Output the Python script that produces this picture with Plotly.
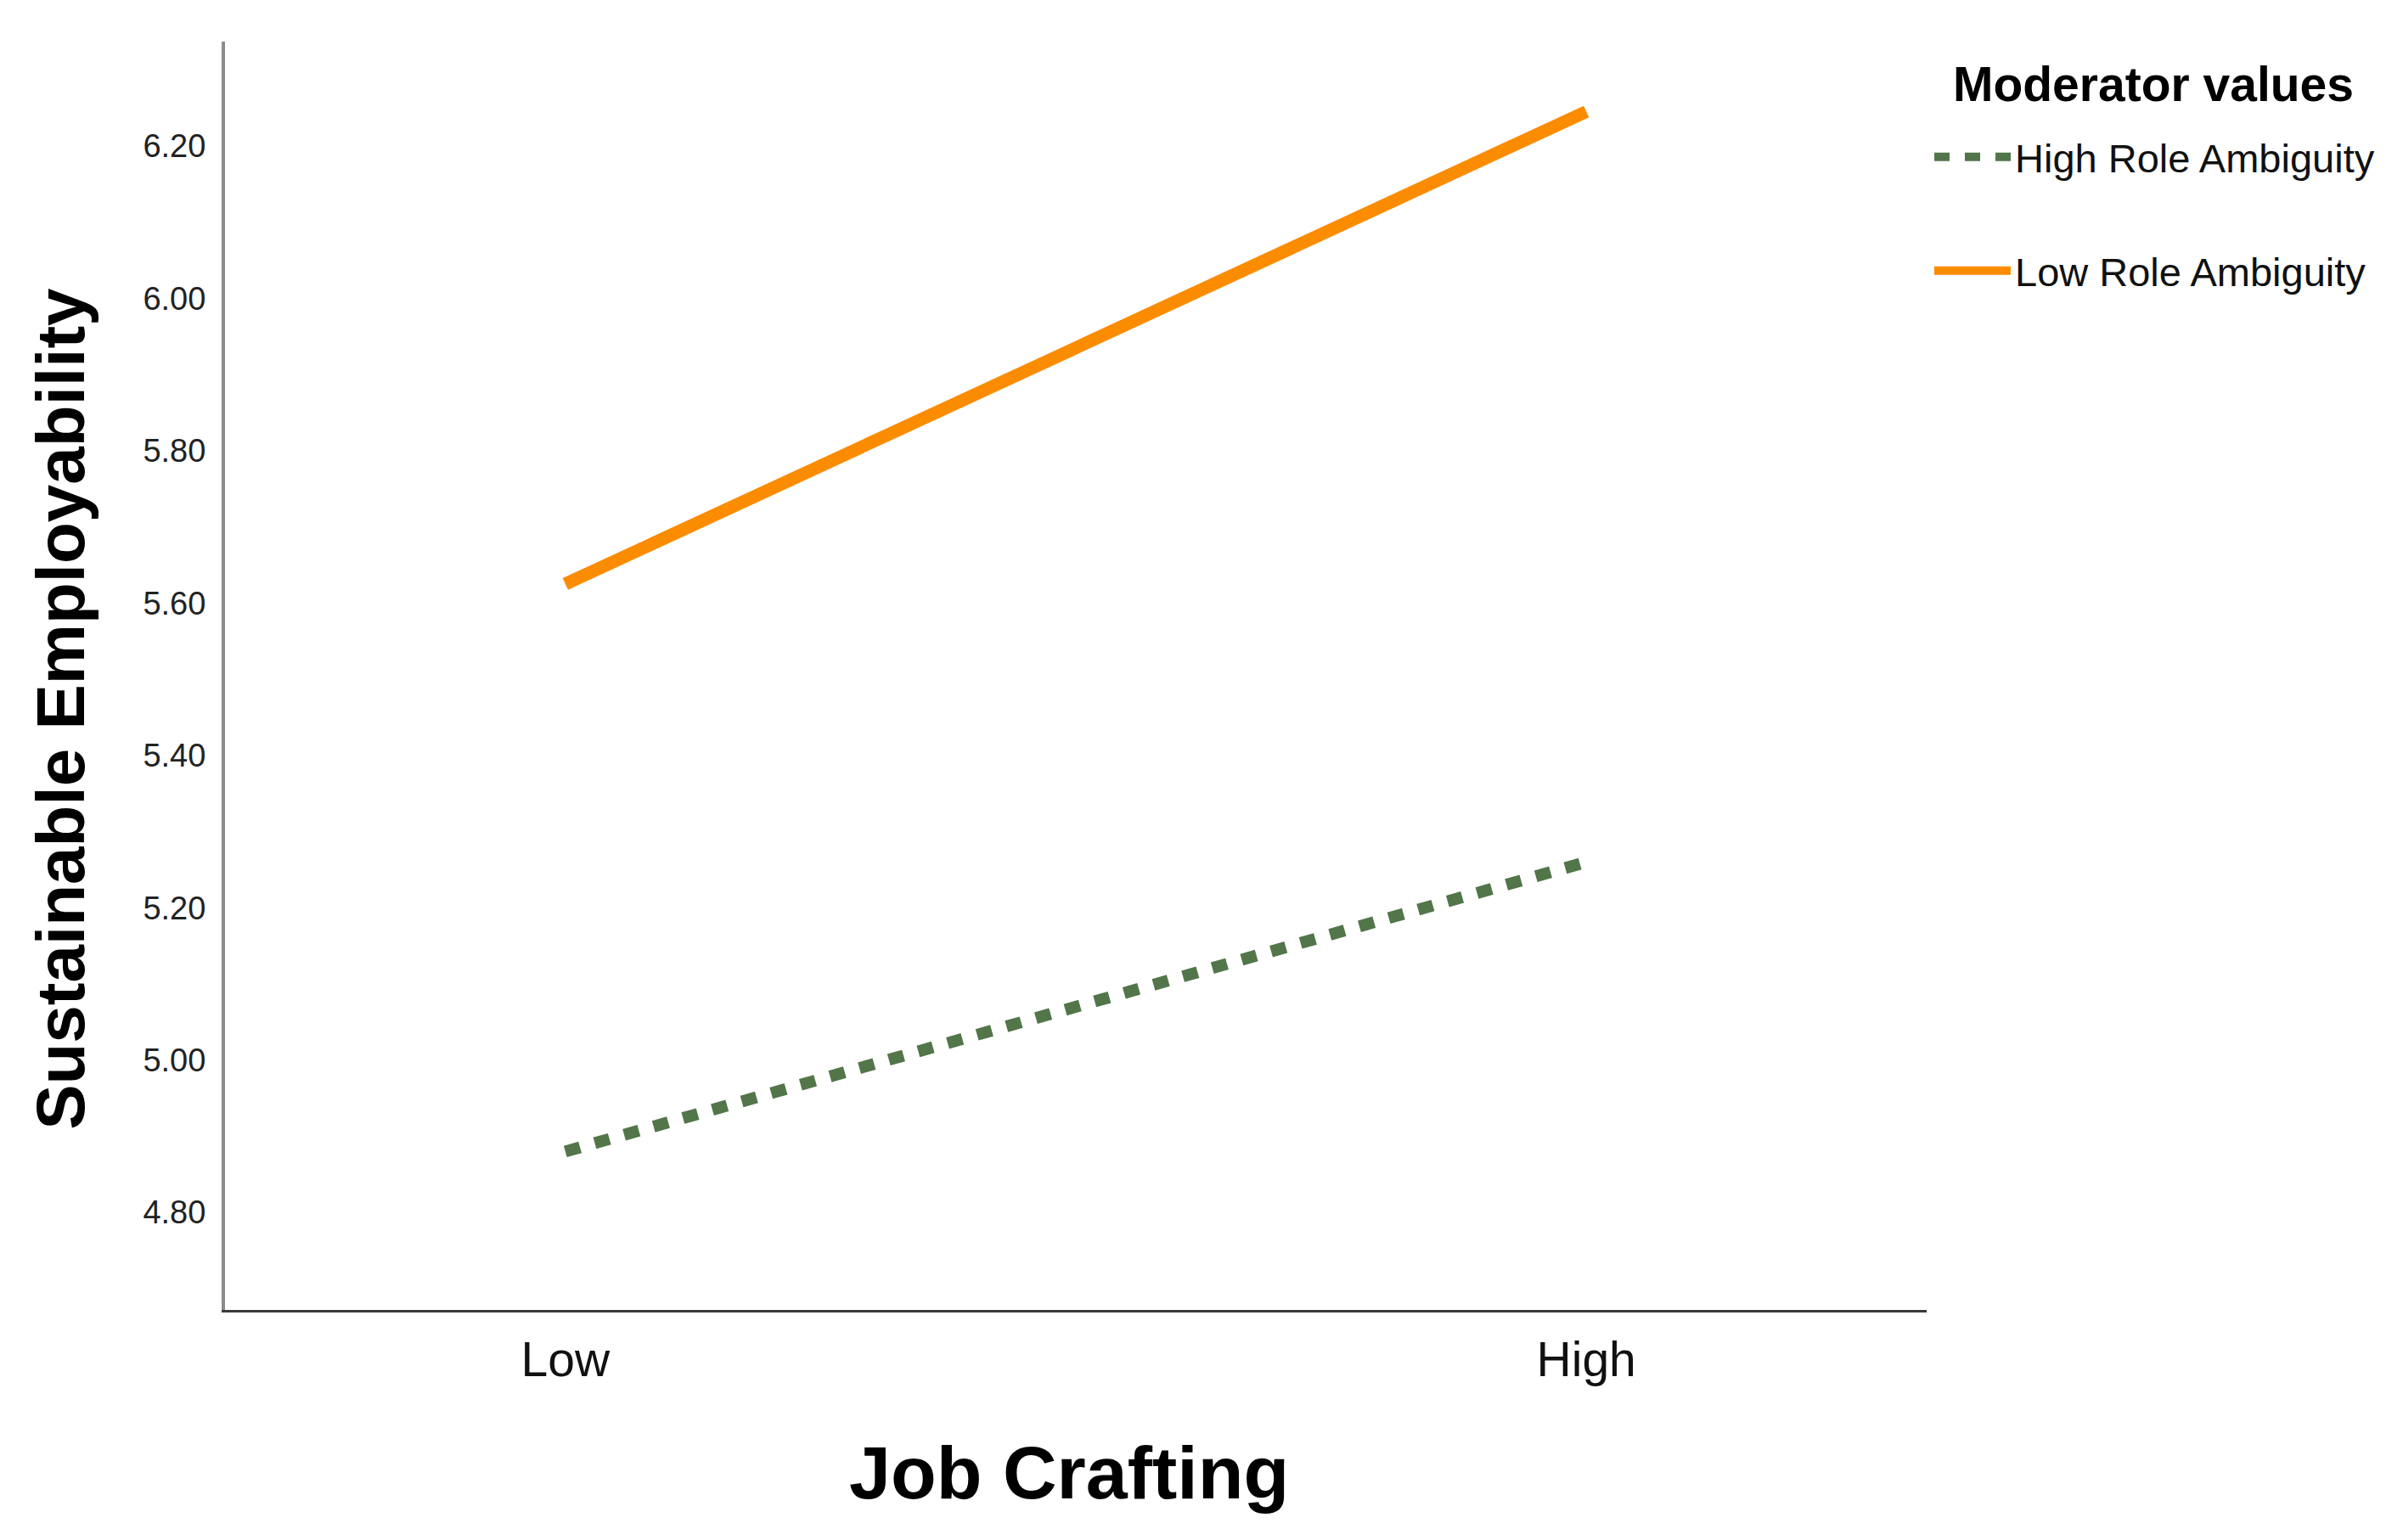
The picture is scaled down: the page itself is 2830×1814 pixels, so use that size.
import plotly.graph_objects as go

# Simple slopes plot: moderator = role ambiguity
job_crafting = ["Low", "High"]
high_role_ambiguity = [4.88, 5.26]
low_role_ambiguity = [5.625, 6.245]
y_ticks = [4.8, 5.0, 5.2, 5.4, 5.6, 5.8, 6.0, 6.2]

FONT = "Liberation Sans, Arial, sans-serif"

fig = go.Figure()
fig.add_trace(go.Scatter(
    x=job_crafting, y=high_role_ambiguity, mode="lines", name="High Role Ambiguity",
    line=dict(color="#52764A", width=14, dash="18px,18px"), legendgroup="a"))
fig.add_trace(go.Scatter(
    x=job_crafting, y=low_role_ambiguity, mode="lines", name="Low Role Ambiguity",
    line=dict(color="#FB8C00", width=15), legendgroup="b"))

fig.update_layout(
    width=2830, height=1814,
    paper_bgcolor="white", plot_bgcolor="white",
    margin=dict(l=257, r=569, t=41, b=279),
    font=dict(family=FONT, color="#111"),
    legend=dict(
        x=1.002, xanchor="left", y=0.934, yanchor="top",
        font=dict(size=47, color="#111"),
        tracegroupgap=70, itemwidth=90,
    ),
    annotations=[
        dict(text="<b>Moderator values</b>", xref="paper", yref="paper",
             x=1.1333, y=0.9665, xanchor="center", yanchor="middle", showarrow=False,
             font=dict(size=57, color="#000")),
        dict(text="<b>Sustainable Employability</b>", textangle=-90, xref="paper", yref="paper",
             x=-0.0963, y=0.474, xanchor="center", yanchor="middle", showarrow=False,
             font=dict(size=80, color="#000")),
        dict(text="<b>Job Crafting</b>", xref="paper", yref="paper",
             x=0.496, y=-0.1285, xanchor="center", yanchor="middle", showarrow=False,
             font=dict(size=88, color="#000")),
    ],
)
fig.update_xaxes(
    type="category", categoryorder="array", categoryarray=job_crafting,
    range=[-1 / 3, 4 / 3], showgrid=False, zeroline=False,
    showline=True, linecolor="#3a3a3a", linewidth=3, ticks="",
    tickfont=dict(size=57, color="#111"), ticklabelstandoff=7,
)
fig.update_yaxes(
    range=[4.672, 6.337], tickvals=y_ticks, tickformat=".2f",
    showgrid=False, zeroline=False, showline=True, linecolor="#8c8c8c", linewidth=4,
    ticks="", tickfont=dict(size=38, color="#222"), ticklabelstandoff=11,
)

fig.write_html("out.html")
